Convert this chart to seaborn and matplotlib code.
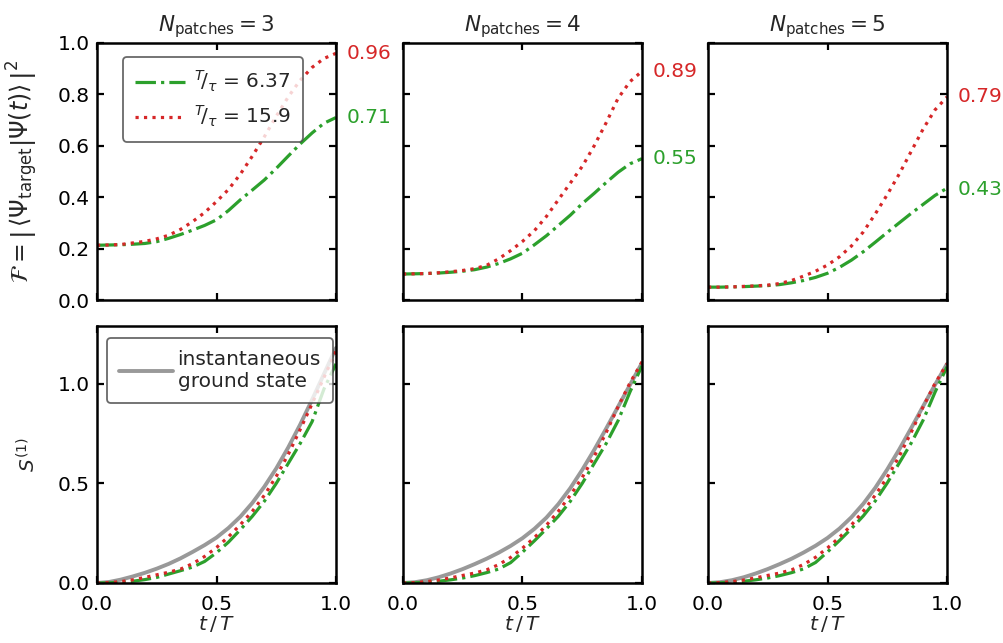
import numpy as np
import pandas as pd
import matplotlib
matplotlib.use("Agg")
import matplotlib.pyplot as plt
import seaborn as sns

# ---------------- data ----------------
t = [0.0, 0.05, 0.1, 0.15, 0.2, 0.25, 0.3, 0.35, 0.4, 0.45, 0.5,
     0.55, 0.6, 0.65, 0.7, 0.75, 0.8, 0.85, 0.9, 0.95, 1.0]

n_patches = [3, 4, 5]
ratio_labels = ["6.37", "15.9"]

# Fidelity, T/tau = 6.37 (green)
fid_fast_3 = [.213, .214, .215, .217, .220, .227, .240, .255, .272, .290, .312,
              .348, .390, .428, .467, .512, .560, .607, .650, .688, .710]
fid_fast_4 = [.101, .102, .103, .105, .108, .112, .118, .128, .142, .160, .182,
              .215, .250, .290, .330, .375, .415, .457, .497, .530, .550]
fid_fast_5 = [.050, .050, .051, .052, .054, .056, .060, .067, .076, .088, .104,
              .127, .155, .188, .225, .263, .300, .337, .372, .407, .435]
# Fidelity, T/tau = 15.9 (red)
fid_slow_3 = [.213, .214, .216, .222, .228, .238, .252, .275, .305, .340, .383,
              .430, .490, .560, .635, .715, .790, .855, .905, .940, .960]
fid_slow_4 = [.101, .102, .103, .106, .110, .115, .122, .135, .160, .192, .228,
              .270, .325, .390, .455, .520, .600, .690, .785, .850, .890]
fid_slow_5 = [.050, .050, .051, .053, .055, .058, .064, .076, .093, .112, .136,
              .168, .210, .265, .335, .410, .490, .578, .665, .740, .790]
final_fast = [0.71, 0.55, 0.43]
final_slow = [0.96, 0.89, 0.79]

# Entropy S^(1)
ent_gs_3 = [0, .005, .017, .033, .051, .072, .096, .124, .156, .190, .228,
            .276, .333, .402, .483, .575, .680, .795, .920, 1.050, 1.180]
ent_fast_3 = [0, .001, .004, .009, .017, .028, .045, .062, .080, .108, .152,
              .205, .268, .335, .410, .500, .600, .700, .810, .975, 1.100]
ent_slow_3 = [0, .002, .007, .016, .028, .041, .054, .070, .097, .133, .178,
              .232, .293, .360, .440, .535, .645, .770, .900, 1.033, 1.165]
ent_gs_4 = [0, .004, .014, .029, .048, .070, .095, .122, .152, .186, .225,
            .272, .328, .396, .476, .568, .668, .775, .885, .995, 1.105]
ent_fast_4 = [0, .001, .004, .009, .016, .025, .037, .052, .070, .102, .155,
              .212, .272, .335, .410, .500, .600, .700, .815, .960, 1.090]
ent_slow_4 = [0, .002, .007, .015, .026, .038, .050, .066, .092, .128, .175,
              .228, .290, .360, .440, .530, .635, .755, .885, 1.005, 1.110]
ent_gs_5 = [0, .004, .014, .029, .048, .070, .095, .122, .153, .187, .226,
            .273, .330, .398, .478, .570, .670, .777, .887, .995, 1.100]
ent_fast_5 = [0, .001, .004, .009, .016, .025, .037, .052, .071, .103, .156,
              .213, .273, .337, .412, .502, .602, .702, .817, .958, 1.085]
ent_slow_5 = [0, .002, .007, .015, .026, .038, .050, .066, .093, .129, .176,
              .229, .291, .361, .441, .531, .636, .756, .884, 1.002, 1.100]

fid_fast = [fid_fast_3, fid_fast_4, fid_fast_5]
fid_slow = [fid_slow_3, fid_slow_4, fid_slow_5]
ent_gs = [ent_gs_3, ent_gs_4, ent_gs_5]
ent_fast = [ent_fast_3, ent_fast_4, ent_fast_5]
ent_slow = [ent_slow_3, ent_slow_4, ent_slow_5]

# ---------------- style ----------------
sns.set_theme(style="ticks")
plt.rcParams["font.family"] = ["DejaVu Sans"]
plt.rcParams["mathtext.fontset"] = "dejavusans"
plt.rcParams.update({
    "font.size": 14.5,
    "axes.linewidth": 1.8,
    "xtick.direction": "in", "ytick.direction": "in",
    "xtick.top": True, "ytick.right": True,
    "xtick.major.size": 5, "ytick.major.size": 5,
    "xtick.major.width": 1.6, "ytick.major.width": 1.6,
    "xtick.major.pad": 9, "ytick.major.pad": 5,
    "xtick.labelsize": 14.5, "ytick.labelsize": 14.5,
    "axes.labelsize": 14.5, "axes.titlesize": 15.5,
    "legend.fontsize": 14.5,
    "axes.edgecolor": "black",
    "xtick.color": "black", "ytick.color": "black",
})

GREEN = "#2ca02c"
RED = "#d62728"
GRAY = "#999999"
LW = 2.3

fig = plt.figure(figsize=(10.04, 6.43), dpi=100)
W, H = 1004, 643
lefts = [97, 403, 708]
aw = 239
rows = [(43, 300), (326, 583)]

axes = []
for r, (top, bot) in enumerate(rows):
    row = []
    for c in range(3):
        ax = fig.add_axes([lefts[c] / W, 1 - bot / H, aw / W, (bot - top) / H])
        row.append(ax)
    axes.append(row)

lab_fast = r"${}^{T}\!/_{\tau}$ = " + ratio_labels[0]
lab_slow = r"${}^{T}\!/_{\tau}$ = " + ratio_labels[1]

for c in range(3):
    ax = axes[0][c]
    df = pd.DataFrame({"t": t, "fast": fid_fast[c], "slow": fid_slow[c]})
    sns.lineplot(data=df, x="t", y="fast", ax=ax, color=GREEN, lw=LW,
                 linestyle="-.", label=lab_fast if c == 0 else None)
    sns.lineplot(data=df, x="t", y="slow", ax=ax, color=RED, lw=LW,
                 linestyle=":", label=lab_slow if c == 0 else None)
    ax.set_xlim(0, 1)
    ax.set_ylim(0, 1)
    ax.set_xticks([0, 0.5, 1.0])
    ax.set_yticks(np.arange(0, 1.01, 0.2))
    ax.set_xticklabels([])
    ax.set_xlabel("")
    ax.set_title(r"$N_\mathrm{patches} = %d$" % n_patches[c], pad=8)
    if c == 0:
        ax.set_ylabel(r"$\mathcal{F} = \left|\,\left\langle\Psi_\mathrm{target}\right|\left.\Psi(t)\right\rangle\,\right|^2$",
                      fontsize=17)
    else:
        ax.set_yticklabels([])
        ax.set_ylabel("")
    ax.annotate("%.2f" % final_slow[c], xy=(1, final_slow[c]), xycoords="data",
                xytext=(8, 0), textcoords="offset points", color=RED,
                va="center", ha="left", annotation_clip=False)
    ax.annotate("%.2f" % final_fast[c], xy=(1, final_fast[c]), xycoords="data",
                xytext=(8, 0), textcoords="offset points", color=GREEN,
                va="center", ha="left", annotation_clip=False)
    if c == 0:
        leg = ax.legend(loc="upper left", bbox_to_anchor=(0.109, 0.946),
                        borderaxespad=0, handlelength=2.5, fancybox=True,
                        handletextpad=0.4, borderpad=0.6,
                        edgecolor="#444444", framealpha=0.8)
        leg.get_frame().set_linewidth(1.3)
    else:
        if ax.get_legend():
            ax.get_legend().remove()

    ax = axes[1][c]
    df = pd.DataFrame({"t": t, "gs": ent_gs[c], "fast": ent_fast[c], "slow": ent_slow[c]})
    sns.lineplot(data=df, x="t", y="gs", ax=ax, color=GRAY, lw=2.8,
                 linestyle="-", label="instantaneous\nground state" if c == 0 else None)
    sns.lineplot(data=df, x="t", y="fast", ax=ax, color=GREEN, lw=LW, linestyle="-.")
    sns.lineplot(data=df, x="t", y="slow", ax=ax, color=RED, lw=LW, linestyle=":")
    ax.set_xlim(0, 1)
    ax.set_ylim(0, 1.29)
    ax.set_xticks([0, 0.5, 1.0])
    ax.set_xticklabels(["0.0", "0.5", "1.0"])
    ax.set_yticks([0, 0.5, 1.0])
    ax.set_xlabel(r"$t\,/\,T$", labelpad=0)
    if c == 0:
        ax.set_ylabel(r"$S^{(1)}$")
        leg = ax.legend(loc="upper left", bbox_to_anchor=(0.042, 0.953),
                        borderaxespad=0, handlelength=2.7, fancybox=True,
                        handletextpad=0.2, borderpad=0.6,
                        edgecolor="#444444", framealpha=0.8)
        leg.get_frame().set_linewidth(1.3)
    else:
        ax.set_yticklabels([])
        ax.set_ylabel("")
        if ax.get_legend():
            ax.get_legend().remove()

for r in range(2):
    axes[r][0].yaxis.set_label_coords(-0.24, 0.5)

fig.savefig("out.png", dpi=100)
